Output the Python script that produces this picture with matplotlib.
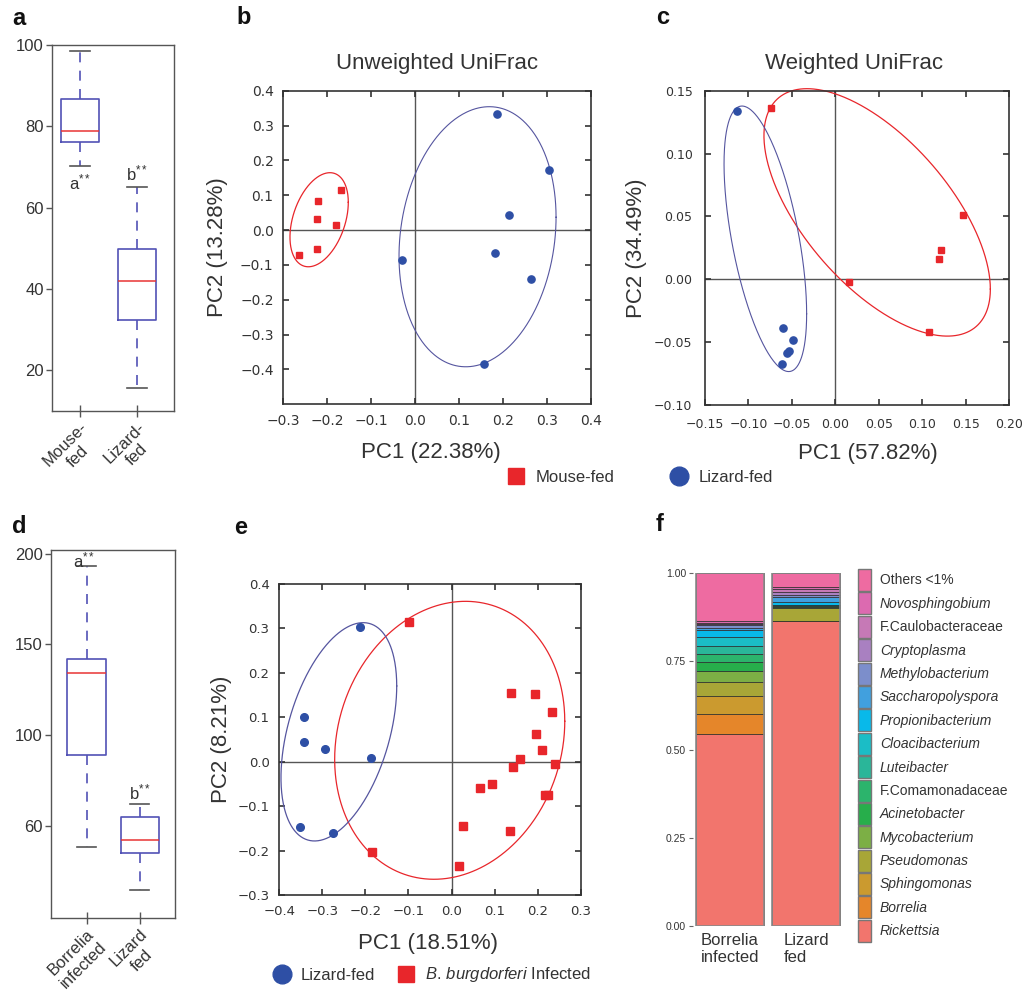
import numpy as np
import matplotlib
matplotlib.use('Agg')
import matplotlib.pyplot as plt
from matplotlib.patches import Patch
from matplotlib.lines import Line2D

plt.rcParams['font.family'] = ['Liberation Sans', 'DejaVu Sans']
plt.rcParams['mathtext.fontset'] = 'custom'
plt.rcParams['mathtext.rm'] = 'Liberation Sans'
plt.rcParams['mathtext.it'] = 'Liberation Sans:italic'
plt.rcParams['axes.unicode_minus'] = True

# ---------------- data ----------------
# panel a (box plot)
a_groups = ['Mouse-\nfed', 'Lizard-\nfed']
a_whislo = [70.3, 15.6]
a_q1 = [76.2, 32.3]
a_med = [78.9, 42.0]
a_q3 = [86.7, 49.8]
a_whishi = [98.6, 65.0]
a_letters = ['a', 'b']
a_letter_y = [66.2, 68.5]
a_yticks = [20, 40, 60, 80, 100]

# panel b (unweighted UniFrac)
b_mouse_x = [-0.169, -0.220, -0.224, -0.180, -0.224, -0.264]
b_mouse_y = [0.115, 0.084, 0.032, 0.016, -0.054, -0.071]
b_lizard_x = [0.186, 0.306, 0.215, 0.182, 0.264, -0.030, 0.158]
b_lizard_y = [0.333, 0.173, 0.043, -0.065, -0.141, -0.086, -0.383]
# ellipse: centre x, centre y, half-width, half-height, tilt (sin phi)
b_mouse_ell = [-0.2184, 0.0297, 0.0664, 0.135, 0.37]
b_lizard_ell = [0.1423, -0.0191, 0.1788, 0.3732, 0.15]
b_xticks = [-0.3, -0.2, -0.1, 0.0, 0.1, 0.2, 0.3, 0.4]
b_yticks = [-0.4, -0.3, -0.2, -0.1, 0.0, 0.1, 0.2, 0.3, 0.4]

# panel c (weighted UniFrac)
c_mouse_x = [-0.0741, 0.1472, 0.1219, 0.1188, 0.0156, 0.1081]
c_mouse_y = [0.1365, 0.0508, 0.0230, 0.0164, -0.0022, -0.0419]
c_lizard_x = [-0.1128, -0.0599, -0.0488, -0.0534, -0.0561, -0.0618]
c_lizard_y = [0.1336, -0.0388, -0.0480, -0.0568, -0.0584, -0.0674]
c_mouse_ell = [0.0480, 0.0532, 0.1302, 0.0984, -0.62]
c_lizard_ell = [-0.0806, 0.0322, 0.0475, 0.1056, -0.565]
c_xticks = [-0.15, -0.10, -0.05, 0.00, 0.05, 0.10, 0.15, 0.20]
c_yticks = [-0.10, -0.05, 0.00, 0.05, 0.10, 0.15]

# panel d (box plot)
d_groups = ['Borrelia\ninfected', 'Lizard\nfed']
d_whislo = [38.2, 14.8]
d_q1 = [89.1, 35.1]
d_med = [134.1, 41.9]
d_q3 = [141.9, 54.7]
d_whishi = [193.2, 61.9]
d_letters = ['a', 'b']
d_letter_y = [196.3, 68.5]
d_letter_x = [0.95, 2.0]
d_yticks = [50, 100, 150, 200]
d_ytick_labels = ['60', '100', '150', '200']

# panel e
e_lizard_x = [-0.2118, -0.3435, -0.3435, -0.2931, -0.1870, -0.352, -0.2761]
e_lizard_y = [0.3025, 0.1007, 0.0444, 0.0294, 0.0077, -0.1469, -0.1596]
e_borr_x = [-0.0979, -0.1839, 0.1383, 0.1941, 0.2329, 0.1957, 0.2104, 0.1585,
            0.1438, 0.2398, 0.0934, 0.0655, 0.2174, 0.2236, 0.0260, 0.1360, 0.0183]
e_borr_y = [0.3137, -0.2032, 0.1554, 0.1524, 0.1127, 0.0624, 0.0272, 0.0054,
            -0.0126, -0.0059, -0.0494, -0.0591, -0.0741, -0.0756, -0.1446, -0.1559, -0.2354]
e_borr_ell = [-0.0042, 0.0482, 0.2672, 0.3128, 0.137]
e_lizard_ell = [-0.2617, 0.0673, 0.1344, 0.2457, 0.42]
e_xticks = [-0.4, -0.3, -0.2, -0.1, 0.0, 0.1, 0.2, 0.3]
e_yticks = [-0.3, -0.2, -0.1, 0.0, 0.1, 0.2, 0.3, 0.4]

# panel f (stacked relative abundance), bottom to top
f_taxa = ['Rickettsia', 'Borrelia', 'Sphingomonas', 'Pseudomonas', 'Mycobacterium',
          'Acinetobacter', 'F.Comamonadaceae', 'Luteibacter', 'Cloacibacterium',
          'Propionibacterium', 'Saccharopolyspora', 'Methylobacterium', 'Cryptoplasma',
          'F.Caulobacteraceae', 'Novosphingobium', 'Others <1%']
f_borrelia = [0.544, 0.056, 0.051, 0.040, 0.031, 0.027, 0.023, 0.023, 0.023,
              0.020, 0.006, 0.008, 0.003, 0.004, 0.007, 0.134]
f_lizard = [0.866, 0.0, 0.0, 0.037, 0.001, 0.004, 0.001, 0.0, 0.001,
            0.009, 0.013, 0.006, 0.009, 0.008, 0.007, 0.038]
f_groups = ['Borrelia\ninfected', 'Lizard\nfed']
f_colors = ['#F2756D', '#E5862A', '#CB9A2F', '#A8A637', '#7CAF45', '#27AE4B',
            '#2CB46C', '#2AB699', '#1BBDC6', '#08B9EA', '#41A0DE', '#7C8ECB',
            '#A980C1', '#C679B6', '#DC6AB0', '#EE6BA1']
f_plain = {'Others <1%', 'F.Caulobacteraceae', 'F.Comamonadaceae'}
f_yticks = [0.0, 0.25, 0.5, 0.75, 1.0]

# ---------------- figure ----------------
W, H = 1025, 990
fig = plt.figure(figsize=(W / 100, H / 100), dpi=100)


def px_axes(l, t, r, b):
    return fig.add_axes([l / W, 1 - b / H, (r - l) / W, (b - t) / H])


RED = '#E8262B'
BLUE_PT = '#2E4FA5'
BLUE_ELL = '#55559F'
BOXBLUE = '#5252B5'
TXT = '#333333'


def fmt(v, nd):
    s = f'{abs(v):.{nd}f}'
    return ('\u2212' + s) if v < -1e-9 else s


def box_panel(ax, pos, lo, q1, med, q3, hi, width):
    stats = [dict(whislo=lo[i], q1=q1[i], med=med[i], q3=q3[i], whishi=hi[i])
             for i in range(len(lo))]
    ax.bxp(stats, positions=pos, widths=width, showfliers=False,
           boxprops=dict(color=BOXBLUE, lw=1.2),
           whiskerprops=dict(color=BOXBLUE, lw=1.2, ls=(0, (6, 5))),
           capprops=dict(color='#555555', lw=1.2),
           medianprops=dict(color='#E83434', lw=1.1))
    for s in ax.spines.values():
        s.set_color('#555555')
        s.set_linewidth(1.0)
    ax.tick_params(axis='y', direction='out', length=4, width=1, color='#555555',
                   labelsize=12, labelcolor=TXT, pad=2)
    ax.tick_params(axis='x', direction='inout', length=8, width=1, color='#555555',
                   labelsize=12, labelcolor=TXT, pad=2)


# ---- panel a ----
axa = px_axes(52, 45, 174, 411)
box_panel(axa, [1, 2], a_whislo, a_q1, a_med, a_q3, a_whishi, 0.68)
axa.set_xlim(0.51, 2.65)
axa.set_ylim(10, 100)
axa.set_yticks(a_yticks)
axa.set_xticks([1, 2])
axa.set_xticklabels(a_groups, rotation=45, ha='right', rotation_mode='anchor',
                    multialignment='center')
for i, (l, y) in enumerate(zip(a_letters, a_letter_y)):
    axa.text(i + 1, y, l + r'$^{**}$', ha='center', va='center', fontsize=12, color=TXT)

# ---- panel d ----
axd = px_axes(51, 550, 175, 918.3)
box_panel(axd, [1, 2], d_whislo, d_q1, d_med, d_q3, d_whishi, 0.72)
axd.set_xlim(0.33, 2.66)
axd.set_ylim(-1, 202)
axd.set_yticks(d_yticks)
axd.set_yticklabels(d_ytick_labels)
axd.set_xticks([1, 2])
axd.set_xticklabels(d_groups, rotation=45, ha='right', rotation_mode='anchor',
                    multialignment='center')
for l, x, y in zip(d_letters, d_letter_x, d_letter_y):
    axd.text(x, y, l + r'$^{**}$', ha='center', va='center', fontsize=12, color=TXT)


# ---- PCoA panels ----
def draw_ellipse(ax, p, color, lw):
    cx, cy, A, B, s = p
    phi = np.arcsin(s)
    t = np.linspace(0, 2 * np.pi, 500)
    ax.plot(cx + A * np.cos(t), cy + B * np.sin(t + phi), color=color, lw=lw,
            clip_on=False, zorder=2)


def pcoa_style(ax, xt, yt, nd, tsize, pad):
    ax.set_xlim(xt[0], xt[-1])
    ax.set_xticks(xt)
    ax.set_yticks(yt)
    ax.set_xticklabels([fmt(v, nd) for v in xt], fontfamily='DejaVu Sans')
    ax.set_yticklabels([fmt(v, nd) for v in yt], fontfamily='DejaVu Sans')
    ax.tick_params(direction='in', top=True, right=True, length=4, width=1.2,
                   color='#333333', labelsize=tsize, labelcolor=TXT, pad=pad)
    for s in ax.spines.values():
        s.set_color('#333333')
        s.set_linewidth(1.2)
    ax.axhline(0, color='#555555', lw=1.0, zorder=1)
    ax.axvline(0, color='#555555', lw=1.0, zorder=1)


axb = px_axes(283.3, 90.7, 590.7, 404.3)
pcoa_style(axb, b_xticks, b_yticks, 1, 10, 7)
axb.set_ylim(-0.5, 0.4)
draw_ellipse(axb, b_mouse_ell, RED, 0.9)
draw_ellipse(axb, b_lizard_ell, BLUE_ELL, 0.8)
axb.plot(b_mouse_x, b_mouse_y, ls='none', marker='s', ms=5, color=RED, zorder=3)
axb.plot(b_lizard_x, b_lizard_y, ls='none', marker='o', ms=5.2, color=BLUE_PT, zorder=3)
axb.text(0.5, 1.0 + 27 / 313.6, 'Unweighted UniFrac', transform=axb.transAxes,
         ha='center', va='center', fontsize=16, color=TXT)
axb.text(0.48, -48.5 / 313.6, 'PC1 (22.38%)', transform=axb.transAxes,
         ha='center', va='center', fontsize=16, color=TXT)
axb.text(-65.8 / 307.4, 0.5, 'PC2 (13.28%)', transform=axb.transAxes, rotation=90,
         ha='center', va='center', fontsize=16, color=TXT)

axc = px_axes(705, 90.7, 1009.3, 405)
pcoa_style(axc, c_xticks, c_yticks, 2, 9, 9)
axc.set_ylim(-0.10, 0.15)
draw_ellipse(axc, c_mouse_ell, RED, 0.9)
draw_ellipse(axc, c_lizard_ell, BLUE_ELL, 0.8)
axc.plot(c_mouse_x, c_mouse_y, ls='none', marker='s', ms=4.8, color=RED, zorder=3)
axc.plot(c_lizard_x, c_lizard_y, ls='none', marker='o', ms=5.2, color=BLUE_PT, zorder=3)
axc.text((853.7 - 705) / 304.3, 1.0 + 27.7 / 314.3, 'Weighted UniFrac',
         transform=axc.transAxes, ha='center', va='center', fontsize=16, color=TXT)
axc.text((868.3 - 705) / 304.3, -48 / 314.3, 'PC1 (57.82%)', transform=axc.transAxes,
         ha='center', va='center', fontsize=16, color=TXT)
axc.text(-68.3 / 304.3, 0.5, 'PC2 (34.49%)', transform=axc.transAxes, rotation=90,
         ha='center', va='center', fontsize=16, color=TXT)

axe = px_axes(279.3, 584, 580.7, 895)
pcoa_style(axe, e_xticks, e_yticks, 1, 9.5, 7)
axe.set_ylim(-0.3, 0.4)
draw_ellipse(axe, e_borr_ell, RED, 0.9)
draw_ellipse(axe, e_lizard_ell, BLUE_ELL, 0.9)
axe.plot(e_borr_x, e_borr_y, ls='none', marker='s', ms=5.3, color=RED, zorder=3)
axe.plot(e_lizard_x, e_lizard_y, ls='none', marker='o', ms=5.5, color=BLUE_PT, zorder=3)
axe.text((428 - 279.3) / 301.4, -48 / 311, 'PC1 (18.51%)', transform=axe.transAxes,
         ha='center', va='center', fontsize=16, color=TXT)
axe.text(-57.6 / 301.4, 0.5, 'PC2 (8.21%)', transform=axe.transAxes, rotation=90,
         ha='center', va='center', fontsize=16, color=TXT)


# ---- figure-level keys ----
def fig_key(xc, yc, marker, color, ms, label):
    h = Line2D([], [], ls='none', marker=marker, color=color, ms=ms)
    fsz = 12 * 100 / 72
    leg = fig.legend([h], [label], loc='center left',
                     bbox_to_anchor=((xc - 0.5 * fsz) / W, 1 - yc / H),
                     frameon=False, handlelength=1.0, handletextpad=0.65,
                     borderpad=0, borderaxespad=0, fontsize=12)
    for t in leg.get_texts():
        t.set_color(TXT)
    return leg


fig_key(516, 477, 's', RED, 11.5, 'Mouse-fed')
fig_key(679, 477, 'o', BLUE_PT, 13.5, 'Lizard-fed')
fig_key(281.7, 975, 'o', BLUE_PT, 13.5, 'Lizard-fed')
fig_key(405.7, 975, 's', RED, 11.5, r'$\mathit{B.\,burgdorferi}$ Infected')

# ---- panel f ----
axf = px_axes(693, 573.3, 843.4, 926)
pos = np.arange(len(f_groups))
for vals, p in zip([f_borrelia, f_lizard], pos):
    cum = np.concatenate([[0], np.cumsum(vals)[:-1]])
    axf.bar([p] * len(vals), vals, bottom=cum, width=0.9, color=f_colors,
            edgecolor='#2a2a2a', linewidth=0.5, zorder=2)
    axf.bar(p, np.sum(vals), width=0.9, fill=False, edgecolor='#8a8a8a',
            linewidth=1.2, zorder=3)
axf.set_xlim(-0.489, 1.49)
axf.set_ylim(0, 1)
for s in axf.spines.values():
    s.set_visible(False)
axf.set_yticks(f_yticks)
axf.set_yticklabels([f'{v:.2f}' for v in f_yticks],
                    fontfamily=['Liberation Sans Narrow', 'Liberation Sans'])
axf.tick_params(axis='y', length=3, width=0.8, color='#666666', labelsize=7.5,
                labelcolor=TXT, pad=2)
axf.set_xticks(pos)
axf.set_xticklabels(f_groups, multialignment='left')
axf.tick_params(axis='x', length=0, labelsize=12, labelcolor=TXT, pad=5)

f_handles = [Patch(facecolor=c, edgecolor='#777777', linewidth=1.0)
             for c in f_colors][::-1]
f_labels = f_taxa[::-1]
legf = fig.legend(f_handles, f_labels, loc='upper left',
                  bbox_to_anchor=(858 / W, 1 - 569 / H), frameon=False,
                  fontsize=10, handlelength=0.95, handleheight=2.06,
                  labelspacing=0.1, handletextpad=0.62, borderpad=0,
                  borderaxespad=0)
for t in legf.get_texts():
    t.set_color(TXT)
    if t.get_text() not in f_plain:
        t.set_fontstyle('italic')

# ---- panel letters ----
for lab, x, y in [('a', 12, 25), ('b', 236, 24), ('c', 656, 24),
                  ('d', 12, 533), ('e', 234, 534), ('f', 656, 531)]:
    fig.text(x / W, 1 - y / H, lab, fontsize=17, fontweight='bold',
             ha='left', va='baseline', color='#111111')

fig.savefig('out.png', dpi=100)
